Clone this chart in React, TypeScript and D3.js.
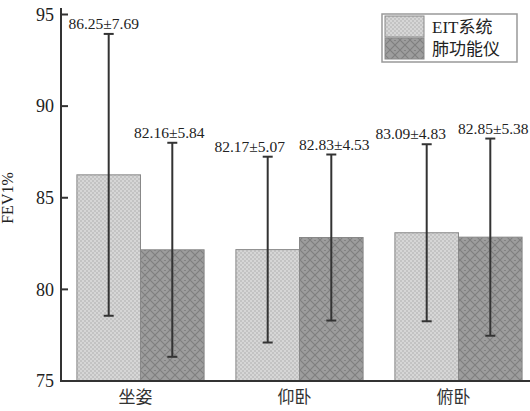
import React from "react";
import * as d3 from "d3";

const categories = ["坐姿", "仰卧", "俯卧"];
const seriesNames = ["EIT系统", "肺功能仪"];
const eitMean = [86.25, 82.17, 83.09];
const eitSd = [7.69, 5.07, 4.83];
const lungMean = [82.16, 82.83, 82.85];
const lungSd = [5.84, 4.53, 5.38];
const yTicks = [75, 80, 85, 90, 95];

const W = 530;
const H = 411;
const FONT = "'Liberation Serif', 'Noto Sans CJK SC', serif";
const labelDx = [
  [-5, -18, -16],
  [-3, 3, 3],
];

export default function App() {
  const x = d3.scaleBand<string>().domain(categories).range([61, 538]).paddingInner(0.2).paddingOuter(0.1);
  const xs = d3.scaleBand<string>().domain(seriesNames).range([0, x.bandwidth()]);
  const y = d3.scaleLinear().domain([75, 95]).range([381, 14.5]);
  const means = [eitMean, lungMean];
  const sds = [eitSd, lungSd];
  const fills = ["url(#pEit)", "url(#pLung)"];
  const axisColor = "#333";

  return (
    <svg width={W} height={H} style={{ position: "absolute", left: 0, top: 0, background: "#fff" }} fontFamily={FONT}>
      <defs>
        <pattern id="pEit" width="4" height="4" patternUnits="userSpaceOnUse">
          <rect width="4" height="4" fill="#d6d6d6" />
          <rect x="0" y="0" width="2" height="2" fill="#c3c3c3" />
          <rect x="2" y="2" width="2" height="2" fill="#c3c3c3" />
        </pattern>
        <pattern id="pLung" width="10" height="10" patternUnits="userSpaceOnUse">
          <rect width="10" height="10" fill="#9d9d9d" />
          <path d="M0,0 L10,10 M10,0 L0,10" stroke="#7f7f7f" strokeWidth="1.1" />
          <rect x="4.5" y="0" width="1" height="1" fill="#6a6a6a" />
        </pattern>
      </defs>

      {categories.map((c, i) =>
        seriesNames.map((s, j) => {
          const m = means[j][i];
          const sd = sds[j][i];
          const bx = (x(c) as number) + (xs(s) as number);
          const bw = xs.bandwidth();
          const cx = bx + bw / 2;
          const top = y(m + sd);
          const bot = y(m - sd);
          return (
            <g key={c + s}>
              <rect x={bx} y={y(m)} width={bw} height={y(75) - y(m)} fill={fills[j]} stroke="#888" strokeWidth={1} />
              <line x1={cx} x2={cx} y1={top} y2={bot} stroke={axisColor} strokeWidth={2} />
              <line x1={cx - 5} x2={cx + 5} y1={top} y2={top} stroke={axisColor} strokeWidth={2} />
              <line x1={cx - 5} x2={cx + 5} y1={bot} y2={bot} stroke={axisColor} strokeWidth={2} />
              <text x={cx + labelDx[j][i]} y={top - 5} textAnchor="middle" fontSize={15.5} fill="#222">
                {m.toFixed(2)}±{sd.toFixed(2)}
              </text>
            </g>
          );
        })
      )}

      {/* axes */}
      <line x1={61} x2={61} y1={8} y2={382} stroke={axisColor} strokeWidth={2} />
      <line x1={60} x2={530} y1={381} y2={381} stroke={axisColor} strokeWidth={2} />
      {yTicks.map((t) => (
        <g key={t}>
          {t !== 75 && <line x1={61} x2={68} y1={y(t)} y2={y(t)} stroke={axisColor} strokeWidth={2} />}
          <text x={54} y={y(t)} dy="0.35em" textAnchor="end" fontSize={18} fill="#222">
            {t}
          </text>
        </g>
      ))}
      {categories.map((c) => (
        <text key={c} x={(x(c) as number) + x.bandwidth() / 2 - 5} y={403} textAnchor="middle" fontSize={17} fill="#333">
          {c}
        </text>
      ))}
      <text transform="translate(13,198) rotate(-90)" textAnchor="middle" fontSize={16} fill="#222">
        FEV1%
      </text>

      {/* legend */}
      <rect x={382} y={14} width={135} height={48} fill="#fff" stroke="#999" strokeWidth={1.5} />
      {seriesNames.map((s, j) => (
        <g key={s}>
          <rect x={385} y={16 + j * 22} width={39} height={21} fill={fills[j]} stroke="#888" strokeWidth={1} />
          <text x={432} y={27 + j * 22} dy="0.35em" fontSize={17} fill="#222">
            {s}
          </text>
        </g>
      ))}
    </svg>
  );
}
